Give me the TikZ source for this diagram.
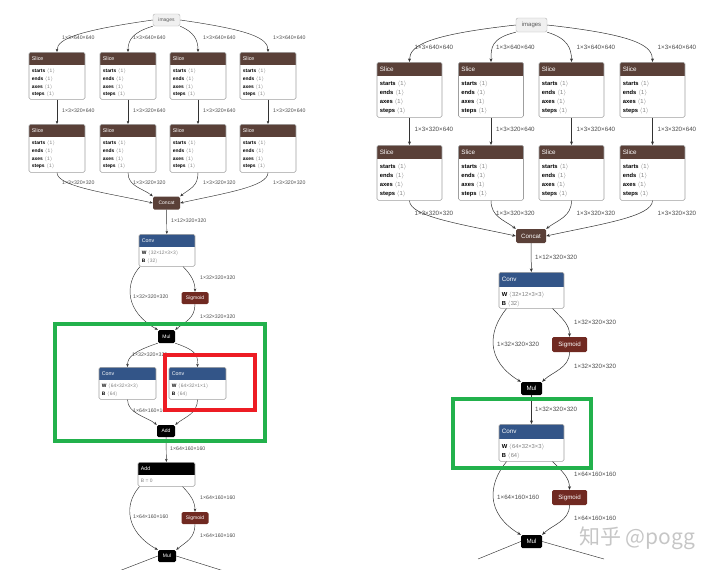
\documentclass[tikz,border=0pt]{standalone}
\usepackage{fontspec}
\setmainfont{Liberation Sans}
\newfontfamily\cjkfont{Noto Sans CJK SC}
\usepackage{xcolor}
\usetikzlibrary{arrows.meta, positioning, calc}

\definecolor{slicebrown}{RGB}{90,64,56}
\definecolor{convblue}{RGB}{51,85,136}
\definecolor{sigred}{RGB}{112,41,33}
\definecolor{markgreen}{RGB}{34,177,76}
\definecolor{markred}{RGB}{237,28,36}

% attribute value in angle brackets
\newcommand{\av}[1]{\textcolor{gray}{$\langle$#1$\rangle$}}
\newcommand{\slicebody}{\textbf{starts} \av{1}\\\textbf{ends} \av{1}\\\textbf{axes} \av{1}\\\textbf{steps} \av{1}}
% name, x, top y, width, height, header height, colour, title, body
\newcommand{\opbox}[9]{%
  \node[opframe, minimum width=#4, minimum height=#5, anchor=north,
        path picture={\fill[#7, sharp corners] (path picture bounding box.north west)
          rectangle ([yshift=-#6]path picture bounding box.north east);}]
        (#1) at (#2,#3) {};
  \node[optitle, anchor=west] (#1-t) at ([xshift=3, yshift=-#6/2]#1.north west) {#8};
  \node[opbody, anchor=north west] (#1-b) at ([xshift=3, yshift=-#6]#1.north west) {#9};
}

\tikzset{
  opframe/.style={draw=gray!75, line width=0.6pt, fill=white, rounded corners=1.5pt, inner sep=0pt},
  optitle/.style={text=white, inner sep=0pt, font=\fontsize{5.3}{6}\selectfont},
  opbody/.style={inner sep=0pt, align=left, yshift=-4pt, font=\fontsize{4.9}{7.6}\selectfont},
  opsmall/.style={rounded corners=1.5pt, text=white, inner sep=0pt, font=\fontsize{5}{6}\selectfont},
  imgnode/.style={draw=gray!60, fill=gray!12, rounded corners=2pt, inner sep=0pt, text=gray!70!black},
  dimlbl/.style={anchor=west, inner sep=0pt, text=black!70, font=\fontsize{5.2}{6}\selectfont},
  flow/.style={draw=black!80, line width=0.45pt, -{Stealth[length=3.2pt,width=2.6pt]}},
  wire/.style={draw=black!80, line width=0.45pt},
  markbox/.style={line width=4pt}
}

\begin{document}
\begin{tikzpicture}[x=1pt, y=-1pt]
\useasboundingbox (0,0) rectangle (720,570);

% ---------------- left graph ----------------
\begin{scope}
    \node[imgnode, minimum width=27, minimum height=12, font=\fontsize{5}{6}\selectfont] (limg) at (166.5,20) {images};
    \foreach \i/\x in {1/57,2/128,3/198,4/268} {
        \opbox{lsa\i}{\x}{52}{56}{47}{13}{slicebrown}{Slice}{\slicebody}
        \opbox{lsb\i}{\x}{124}{56}{48}{13}{slicebrown}{Slice}{\slicebody}
        \draw[flow] (lsa\i) -- (lsb\i);
        \node[dimlbl] (lla\i) at (\x+5,38) {1×3×640×640};
        \node[dimlbl] (llb\i) at (\x+5,111) {1×3×320×640};
        \node[dimlbl] (llc\i) at (\x+5,183) {1×3×320×320};
    }
    \node[opsmall, fill=slicebrown, minimum width=27, minimum height=13] (lcat) at (166.5,203) {Concat};
    \opbox{lconv}{167}{234}{56}{32}{13}{convblue}{Conv}{\textbf{W} \av{32×12×3×3}\\\textbf{B} \av{32}}
    \node[opsmall, fill=sigred, minimum width=27, minimum height=12] (lsig) at (195,298) {Sigmoid};
    \node[opsmall, fill=black, minimum width=17, minimum height=13] (lmul) at (166.5,336.5) {Mul};
    \opbox{lca}{127.5}{367}{57}{32}{13}{convblue}{Conv}{\textbf{W} \av{64×32×3×3}\\\textbf{B} \av{64}}
    \opbox{lcb}{197.5}{367}{57}{32}{13}{convblue}{Conv}{\textbf{W} \av{64×32×1×1}\\\textbf{B} \av{64}}
    \node[opsmall, fill=black, minimum width=18, minimum height=12] (ladd) at (166,431) {Add};
    \opbox{lbias}{166.5}{462}{57}{24}{13}{black}{Add}{\textcolor{gray}{B = 0}}
    \node[opsmall, fill=sigred, minimum width=27, minimum height=12] (lsig2) at (195,518) {Sigmoid};
    \node[opsmall, fill=black, minimum width=18, minimum height=12] (lmul2) at (167,556) {Mul};
    \coordinate (lout1) at (119,571);
    \coordinate (lout2) at (224,571);

    \draw[flow] (limg.west) .. controls +(-70,10) and +(0,-14) .. (lsa1.north);
    \draw[flow] (limg.south west) .. controls +(-20,6) and +(0,-12) .. (lsa2.north);
    \draw[flow] (limg.south east) .. controls +(14,6) and +(0,-12) .. (lsa3.north);
    \draw[flow] (limg.east) .. controls +(70,10) and +(0,-14) .. (lsa4.north);
    \draw[flow] (lsb1.south) .. controls +(0,14) and +(-45,-10) .. (lcat.west);
    \draw[flow] (lsb2.south) .. controls +(0,14) and +(-10,-8) .. (lcat.north west);
    \draw[flow] (lsb3.south) .. controls +(0,14) and +(10,-8) .. (lcat.north east);
    \draw[flow] (lsb4.south) .. controls +(0,14) and +(45,-10) .. (lcat.east);
    \draw[flow] (lcat) -- (lconv);
    \draw[flow] ([xshift=16]lconv.south) .. controls +(8,8) and +(0,-10) .. (lsig.north);
    \draw[flow] ([xshift=-27]lconv.south) .. controls +(-16,18) and +(-32,-18) .. (lmul.north west);
    \draw[flow] (lsig.south) .. controls +(0,14) and +(10,-8) .. (lmul.north east);
    \draw[flow] (lmul.south west) .. controls +(-24,8) and +(0,-10) .. (lca.north);
    \draw[flow] (lmul.south east) .. controls +(24,8) and +(0,-10) .. (lcb.north);
    \draw[flow] (lca.south) .. controls +(0,14) and +(-10,-8) .. (ladd.north west);
    \draw[flow] (lcb.south) .. controls +(0,14) and +(10,-8) .. (ladd.north east);
    \draw[flow] (ladd) -- (lbias);
    \draw[flow] ([xshift=16]lbias.south) .. controls +(8,8) and +(0,-10) .. (lsig2.north);
    \draw[flow] ([xshift=-27]lbias.south) .. controls +(-16,18) and +(-32,-18) .. (lmul2.north west);
    \draw[flow] (lsig2.south) .. controls +(0,14) and +(10,-8) .. (lmul2.north east);
    \draw[wire] (lmul2.west) -- (lout1);
    \draw[wire] (lmul2.east) -- (lout2);

    \node[dimlbl] (ll1) at (171,221) {1×12×320×320};
    \node[dimlbl] (ll2) at (200,278) {1×32×320×320};
    \node[dimlbl] (ll3) at (133,297) {1×32×320×320};
    \node[dimlbl] (ll4) at (200,317) {1×32×320×320};
    \node[dimlbl] (ll5) at (132,355) {1×32×320×320};
    \node[dimlbl] (ll6) at (133,411) {1×64×160×160};
    \node[dimlbl] (ll7) at (203,411) {1×64×160×160};
    \node[dimlbl] (ll8) at (170,449) {1×64×160×160};
    \node[dimlbl] (ll9) at (200,498) {1×64×160×160};
    \node[dimlbl] (ll10) at (133,517) {1×64×160×160};
    \node[dimlbl] (ll11) at (200,536) {1×64×160×160};

    \draw[markbox, markgreen] (55,323.5) rectangle (265,440.5);
    \draw[markbox, markred] (165,355) rectangle (255,410);
\end{scope}

% ---------------- right graph ----------------
\begin{scope}[optitle/.style={text=white, inner sep=0pt, font=\fontsize{6.3}{7}\selectfont},
              opbody/.style={inner sep=0pt, align=left, yshift=-4.6pt, font=\fontsize{5.8}{9.1}\selectfont},
              opsmall/.style={rounded corners=1.5pt, text=white, inner sep=0pt, font=\fontsize{6.2}{7}\selectfont},
              dimlbl/.style={anchor=west, inner sep=0pt, text=black!70, font=\fontsize{6.2}{7}\selectfont},
              flow/.style={draw=black!80, line width=0.5pt, -{Stealth[length=3.6pt,width=3pt]}}]
    \node[imgnode, minimum width=31, minimum height=14, font=\fontsize{6}{7}\selectfont] (rimg) at (531.5,25) {images};
    \foreach \i/\x in {1/409.5,2/491,3/571.5,4/652.5} {
        \opbox{rsa\i}{\x}{62}{65}{55}{14}{slicebrown}{Slice}{\slicebody}
        \opbox{rsb\i}{\x}{145}{65}{55}{14}{slicebrown}{Slice}{\slicebody}
        \draw[flow] (rsa\i) -- (rsb\i);
        \node[dimlbl] (rla\i) at (\x+5,47) {1×3×640×640};
        \node[dimlbl] (rlb\i) at (\x+5,129) {1×3×320×640};
        \node[dimlbl] (rlc\i) at (\x+5,213) {1×3×320×320};
    }
    \node[opsmall, fill=slicebrown, minimum width=30, minimum height=14] (rcat) at (531,236) {Concat};
    \opbox{rconv}{531.5}{272}{65}{36}{15}{convblue}{Conv}{\textbf{W} \av{32×12×3×3}\\\textbf{B} \av{32}}
    \node[opsmall, fill=sigred, minimum width=35, minimum height=15] (rsig) at (569.5,344.5) {Sigmoid};
    \node[opsmall, fill=black, minimum width=21, minimum height=13] (rmul) at (531.5,388.5) {Mul};
    \opbox{rconvb}{531.5}{424}{65}{37}{15}{convblue}{Conv}{\textbf{W} \av{64×32×3×3}\\\textbf{B} \av{64}}
    \node[opsmall, fill=sigred, minimum width=35, minimum height=15] (rsig2) at (569.5,497.5) {Sigmoid};
    \node[opsmall, fill=black, minimum width=21, minimum height=13] (rmul2) at (531.5,541.5) {Mul};
    \coordinate (rout1) at (478,559);
    \coordinate (rout2) at (604,559);

    \draw[flow] (rimg.west) .. controls +(-90,10) and +(0,-16) .. (rsa1.north);
    \draw[flow] (rimg.south west) .. controls +(-25,6) and +(0,-14) .. (rsa2.north);
    \draw[flow] (rimg.south east) .. controls +(20,6) and +(0,-14) .. (rsa3.north);
    \draw[flow] (rimg.east) .. controls +(90,10) and +(0,-16) .. (rsa4.north);
    \draw[flow] (rsb1.south) .. controls +(0,16) and +(-55,-12) .. (rcat.west);
    \draw[flow] (rsb2.south) .. controls +(0,16) and +(-12,-9) .. (rcat.north west);
    \draw[flow] (rsb3.south) .. controls +(0,16) and +(12,-9) .. (rcat.north east);
    \draw[flow] (rsb4.south) .. controls +(0,16) and +(55,-12) .. (rcat.east);
    \draw[flow] (rcat) -- (rconv);
    \draw[flow] ([xshift=21]rconv.south) .. controls +(10,10) and +(0,-12) .. (rsig.north);
    \draw[flow] ([xshift=-25]rconv.south) .. controls +(-18,22) and +(-36,-22) .. (rmul.north west);
    \draw[flow] (rsig.south) .. controls +(0,16) and +(10,-10) .. (rmul.north east);
    \draw[flow] (rmul) -- (rconvb);
    \draw[flow] ([xshift=21]rconvb.south) .. controls +(10,10) and +(0,-12) .. (rsig2.north);
    \draw[flow] ([xshift=-25]rconvb.south) .. controls +(-18,22) and +(-36,-22) .. (rmul2.north west);
    \draw[flow] (rsig2.south) .. controls +(0,16) and +(10,-10) .. (rmul2.north east);
    \draw[wire] (rmul2.west) -- (rout1);
    \draw[wire] (rmul2.east) -- (rout2);

    \node[dimlbl] (rl1) at (535,257) {1×12×320×320};
    \node[dimlbl] (rl2) at (574,322) {1×32×320×320};
    \node[dimlbl] (rl3) at (497,344) {1×32×320×320};
    \node[dimlbl] (rl4) at (574,366) {1×32×320×320};
    \node[dimlbl] (rl5) at (535,409) {1×32×320×320};
    \node[dimlbl] (rl6) at (574,474) {1×64×160×160};
    \node[dimlbl] (rl7) at (497,497) {1×64×160×160};
    \node[dimlbl] (rl8) at (574,518) {1×64×160×160};

    \draw[markbox, markgreen] (453,399) rectangle (591,468);
\end{scope}

\node[anchor=west, inner sep=0pt, text=gray!45, font=\cjkfont\fontsize{21}{22}\selectfont] (wmark) at (579,538) {知乎 @pogg};
\end{tikzpicture}
\end{document}
